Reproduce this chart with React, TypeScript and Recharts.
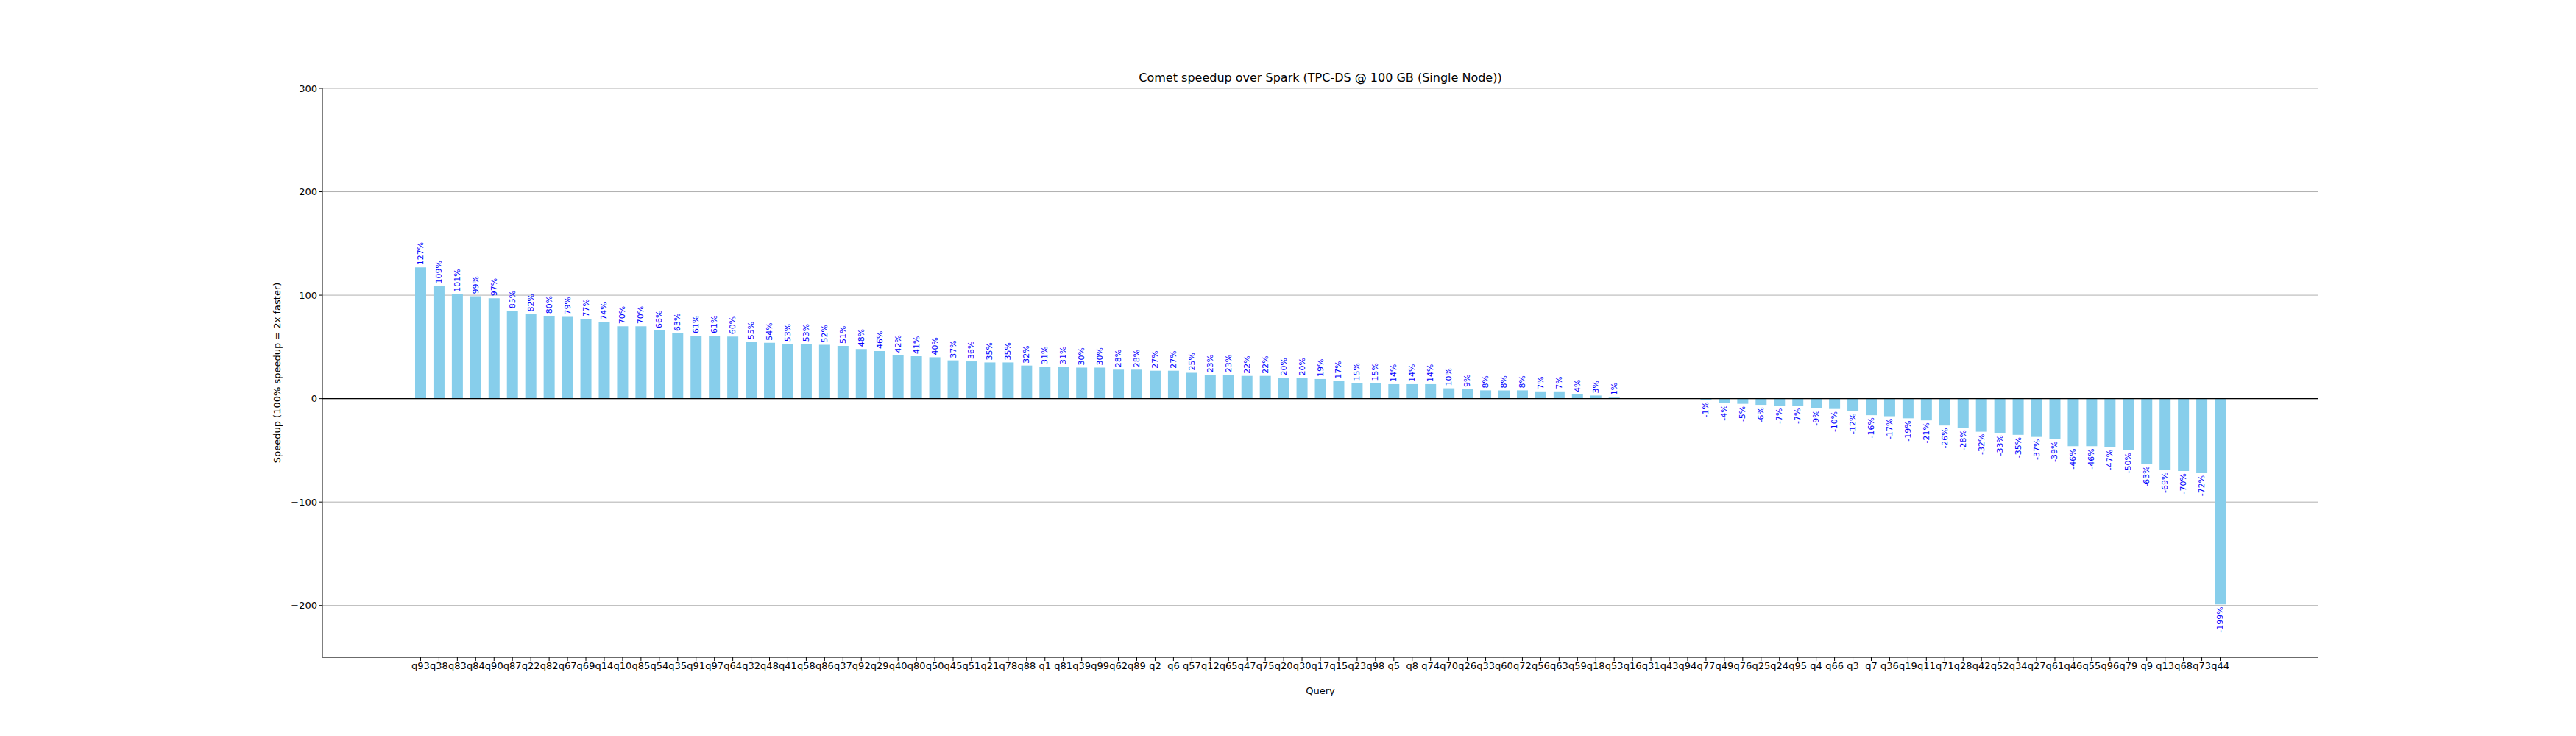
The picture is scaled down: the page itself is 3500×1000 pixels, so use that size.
import React from "react";
import { BarChart, Bar, XAxis, YAxis, CartesianGrid, ReferenceLine, LabelList } from "recharts";

const queries = [
  "q93","q38","q83","q84","q90","q87","q22","q82","q67","q69","q14","q10","q85","q54","q35","q91","q97","q64","q32","q48","q41","q58","q86","q37","q92","q29","q40",
  "q80","q50","q45","q51","q21","q78","q88","q1","q81","q39","q99","q62","q89","q2","q6","q57","q12","q65","q47","q75","q20","q30","q17","q15","q23","q98","q5","q8",
  "q74","q70","q26","q33","q60","q72","q56","q63","q59","q18","q53","q16","q31","q43","q94","q77","q49","q76","q25","q24","q95","q4","q66","q3","q7","q36","q19",
  "q11","q71","q28","q42","q52","q34","q27","q61","q46","q55","q96","q79","q9","q13","q68","q73","q44",
];
const speedups = [
  127,109,101,99,97,85,82,80,79,77,74,70,70,66,63,61,61,60,55,54,53,53,52,51,48,46,42,
  41,40,37,36,35,35,32,31,31,30,30,28,28,27,27,25,23,23,22,22,20,20,19,17,15,15,14,14,
  14,10,9,8,8,8,7,7,4,3,1,0,0,0,0,-1,-4,-5,-6,-7,-7,-9,-10,-12,-16,-17,-19,
  -21,-26,-28,-32,-33,-35,-37,-39,-46,-46,-47,-50,-63,-69,-70,-72,-199,
];
const yTicks = [-200, -100, 0, 100, 200, 300];

const data = queries.map((q, i) => ({ query: q, speedup: speedups[i] }));

const FONT = "'DejaVu Sans', sans-serif";

const fmtTick = (v: number) => (v < 0 ? "\u2212" + Math.abs(v) : String(v));

const BarLabel = (props: any) => {
  const { x, y, width, height, value } = props;
  const top = Math.min(y, y + height);
  const bottom = Math.max(y, y + height);
  const cx = x + width / 2;
  const pos = value >= 0;
  const ay = pos ? top - 3 : bottom + 3;
  return (
    <text
      x={cx}
      y={ay}
      transform={`rotate(-90, ${cx}, ${ay})`}
      textAnchor={pos ? "start" : "end"}
      dominantBaseline="central"
      fill="blue"
      fontSize={11}
      fontFamily={FONT}
    >
      {`${value}%`}
    </text>
  );
};

export default function App() {
  return (
    <div style={{ position: "absolute", left: 0, top: 0, width: 3500, height: 1000, background: "#fff", fontFamily: FONT }}>
      <div style={{ position: "absolute", left: 438, width: 2712, top: 96, textAlign: "center", fontSize: 16, color: "#000" }}>
        Comet speedup over Spark (TPC-DS @ 100 GB (Single Node))
      </div>
      <BarChart
        width={3500}
        height={1000}
        data={data}
        margin={{ top: 120, right: 350, left: 378, bottom: 77 }}
        barCategoryGap="20%"
      >
        <CartesianGrid vertical={false} stroke="#b0b0b0" strokeWidth={1} />
        <XAxis
          dataKey="query"
          interval={0}
          padding={{ left: 121, right: 121 }}
          tick={{ fontSize: 13, fill: "#000", fontFamily: FONT }}
          tickLine={{ stroke: "#000" }}
          axisLine={{ stroke: "#000" }}
          tickSize={5}
          height={30}
          label={{ value: "Query", position: "insideBottom", offset: -20, fontSize: 13, fill: "#000", fontFamily: FONT }}
        />
        <XAxis xAxisId="top" orientation="top" dataKey="query" tick={false} tickLine={false} axisLine={{ stroke: "#000" }} height={0} />
        <YAxis
          domain={[-250, 300]}
          ticks={yTicks}
          tickFormatter={fmtTick}
          allowDataOverflow
          width={60}
          tick={{ fontSize: 13, fill: "#000", fontFamily: FONT }}
          tickLine={{ stroke: "#000" }}
          axisLine={{ stroke: "#000" }}
          tickSize={5}
          label={{ value: "Speedup (100% speedup = 2x faster)", angle: -90, position: "insideLeft", offset: -2, style: { textAnchor: "middle" }, fontSize: 13, fill: "#000", fontFamily: FONT }}
        />
        <YAxis yAxisId="right" orientation="right" domain={[-250, 300]} tick={false} tickLine={false} axisLine={{ stroke: "#000" }} width={0} />
        <ReferenceLine y={0} stroke="#000" strokeWidth={1.2} />
        <Bar dataKey="speedup" fill="#87CEEB" isAnimationActive={false}>
          <LabelList dataKey="speedup" content={BarLabel} />
        </Bar>
      </BarChart>
    </div>
  );
}
